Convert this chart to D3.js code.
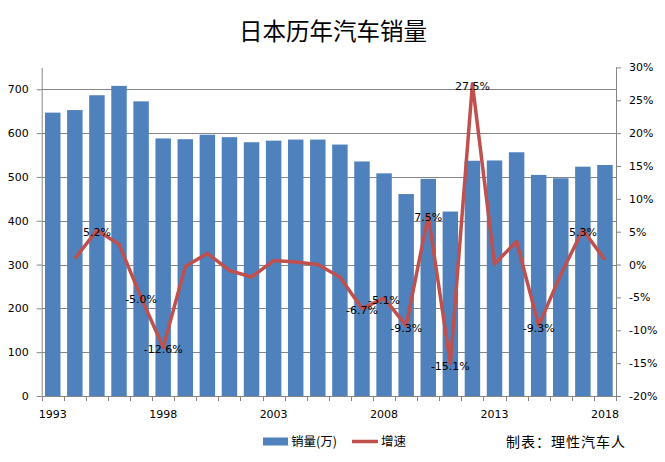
<!DOCTYPE html>
<html>
<head>
<meta charset="utf-8">
<script src="https://cdn.jsdelivr.net/npm/d3@7"></script>
<style>
  body { margin: 0; background: #fff; }
  svg { display: block; }
</style>
</head>
<body>
<script>
const width = 665;
const height = 462;
const margin = { left: 41.7, right: 49, top: 67.4, bottom: 66 };

const years = d3.range(1993, 2019);
const sales = [646.8, 652.6, 686.5, 707.8, 672.5, 587.9, 586.1, 596.3, 590.7, 579.2,
  582.8, 585.3, 585.2, 573.9, 535.3, 508.2, 460.9, 495.6, 421.0, 536.9,
  537.6, 556.3, 504.7, 497.0, 523.4, 527.2];
const growth = [null, 0.9, 5.2, 3.1, -5.0, -12.6, -0.3, 1.7, -0.9, -1.9,
  0.6, 0.4, 0.0, -1.9, -6.7, -5.1, -9.3, 7.5, -15.1, 27.5,
  0.1, 3.5, -9.3, -1.5, 5.3, 0.7];
const labelYears = [1995, 1997, 1998, 2007, 2008, 2009, 2010, 2011, 2012, 2015, 2017];
const xTickLabels = [1993, 1998, 2003, 2008, 2013, 2018];
const leftTicks = d3.range(0, 701, 100);
const rightTicks = d3.range(-20, 31, 5);

const barColor = "#4F81BD";
const lineColor = "#C0504D";
const axisColor = "#868686";
const numFont = "'DejaVu Sans', Verdana, sans-serif";
const cjkFont = "'Noto Sans CJK SC', sans-serif";

const svg = d3.select("body")
  .append("svg")
  .attr("width", width)
  .attr("height", height);

const x = d3.scaleBand()
  .domain(years)
  .range([margin.left, width - margin.right])
  .paddingInner(0.3)
  .paddingOuter(0.15);

const yL = d3.scaleLinear()
  .domain([0, 750])
  .range([height - margin.bottom, margin.top]);

const yR = d3.scaleLinear()
  .domain([-20, 30])
  .range([height - margin.bottom, margin.top]);

// title
svg.append("text")
  .attr("x", 333)
  .attr("y", 40)
  .attr("text-anchor", "middle")
  .style("font-family", cjkFont)
  .style("font-size", "23.5px")
  .text("日本历年汽车销量");

// gridlines
svg.selectAll(".grid")
  .data(leftTicks.filter(d => d > 0))
  .enter()
  .append("line")
  .attr("class", "grid")
  .attr("x1", margin.left)
  .attr("x2", width - margin.right)
  .attr("y1", d => Math.round(yL(d)) + 0.5)
  .attr("y2", d => Math.round(yL(d)) + 0.5)
  .attr("stroke", axisColor)
  .attr("stroke-width", 1);

// bars
svg.selectAll(".bar")
  .data(years)
  .enter()
  .append("rect")
  .attr("class", "bar")
  .attr("x", d => x(d))
  .attr("width", x.bandwidth())
  .attr("y", (d, i) => yL(sales[i]))
  .attr("height", (d, i) => yL(0) - yL(sales[i]))
  .attr("fill", barColor);

// left axis
const leftAxis = svg.append("g")
  .attr("transform", `translate(${margin.left},0)`)
  .call(d3.axisLeft(yL).tickValues(leftTicks).tickSize(5).tickPadding(8).tickSizeOuter(0));
leftAxis.select(".domain").attr("stroke", axisColor);
leftAxis.selectAll(".tick line").attr("stroke", axisColor);
leftAxis.selectAll("text")
  .style("font-family", numFont)
  .style("font-size", "11px")
  .attr("fill", "#000");

// right axis
const rightAxis = svg.append("g")
  .attr("transform", `translate(${width - margin.right},0)`)
  .call(d3.axisRight(yR).tickValues(rightTicks).tickSize(5).tickPadding(8).tickSizeOuter(0)
    .tickFormat(d => d + "%"));
rightAxis.select(".domain").attr("stroke", axisColor);
rightAxis.selectAll(".tick line").attr("stroke", axisColor);
rightAxis.selectAll("text")
  .style("font-family", numFont)
  .style("font-size", "11px")
  .attr("fill", "#000");

// x axis
const base = yL(0);
svg.append("line")
  .attr("x1", margin.left)
  .attr("x2", width - margin.right)
  .attr("y1", base + 0.5)
  .attr("y2", base + 0.5)
  .attr("stroke", axisColor);

const bounds = years.map(d => x(d) - x.step() * x.paddingInner() / 2)
  .concat([width - margin.right]);
svg.selectAll(".xtick")
  .data(bounds)
  .enter()
  .append("line")
  .attr("class", "xtick")
  .attr("x1", d => Math.round(d) + 0.5)
  .attr("x2", d => Math.round(d) + 0.5)
  .attr("y1", base)
  .attr("y2", base + 5)
  .attr("stroke", axisColor);

svg.selectAll(".xlabel")
  .data(xTickLabels)
  .enter()
  .append("text")
  .attr("class", "xlabel")
  .attr("x", d => x(d) + x.bandwidth() / 2)
  .attr("y", base + 22)
  .attr("text-anchor", "middle")
  .style("font-family", numFont)
  .style("font-size", "11px")
  .text(d => d);

// growth line
const pts = years.map((d, i) => ({ year: d, v: growth[i] })).filter(d => d.v !== null);
const line = d3.line()
  .x(d => x(d.year) + x.bandwidth() / 2)
  .y(d => yR(d.v));

svg.append("path")
  .datum(pts)
  .attr("d", line)
  .attr("fill", "none")
  .attr("stroke", lineColor)
  .attr("stroke-width", 3.5)
  .attr("stroke-linejoin", "round");

// data labels
svg.selectAll(".dlabel")
  .data(pts.filter(d => labelYears.includes(d.year)))
  .enter()
  .append("text")
  .attr("class", "dlabel")
  .attr("x", d => x(d.year) + x.bandwidth() / 2)
  .attr("y", d => yR(d.v) + 2)
  .attr("dy", "0.35em")
  .attr("text-anchor", "middle")
  .style("font-family", numFont)
  .style("font-size", "11px")
  .text(d => d.v.toFixed(1) + "%");

// legend
svg.append("rect")
  .attr("x", 263)
  .attr("y", 437.5)
  .attr("width", 25)
  .attr("height", 8)
  .attr("fill", barColor);
svg.append("text")
  .attr("x", 291)
  .attr("y", 446)
  .style("font-family", cjkFont)
  .style("font-size", "12.5px")
  .text("销量(万)");
svg.append("line")
  .attr("x1", 352)
  .attr("x2", 378)
  .attr("y1", 441.5)
  .attr("y2", 441.5)
  .attr("stroke", lineColor)
  .attr("stroke-width", 3.5);
svg.append("text")
  .attr("x", 381)
  .attr("y", 446)
  .style("font-family", cjkFont)
  .style("font-size", "12.5px")
  .text("增速");

svg.append("text")
  .attr("x", 506)
  .attr("y", 447)
  .style("font-family", cjkFont)
  .style("font-size", "14px")
  .style("letter-spacing", "1px")
  .text("制表：理性汽车人");
</script>
</body>
</html>
